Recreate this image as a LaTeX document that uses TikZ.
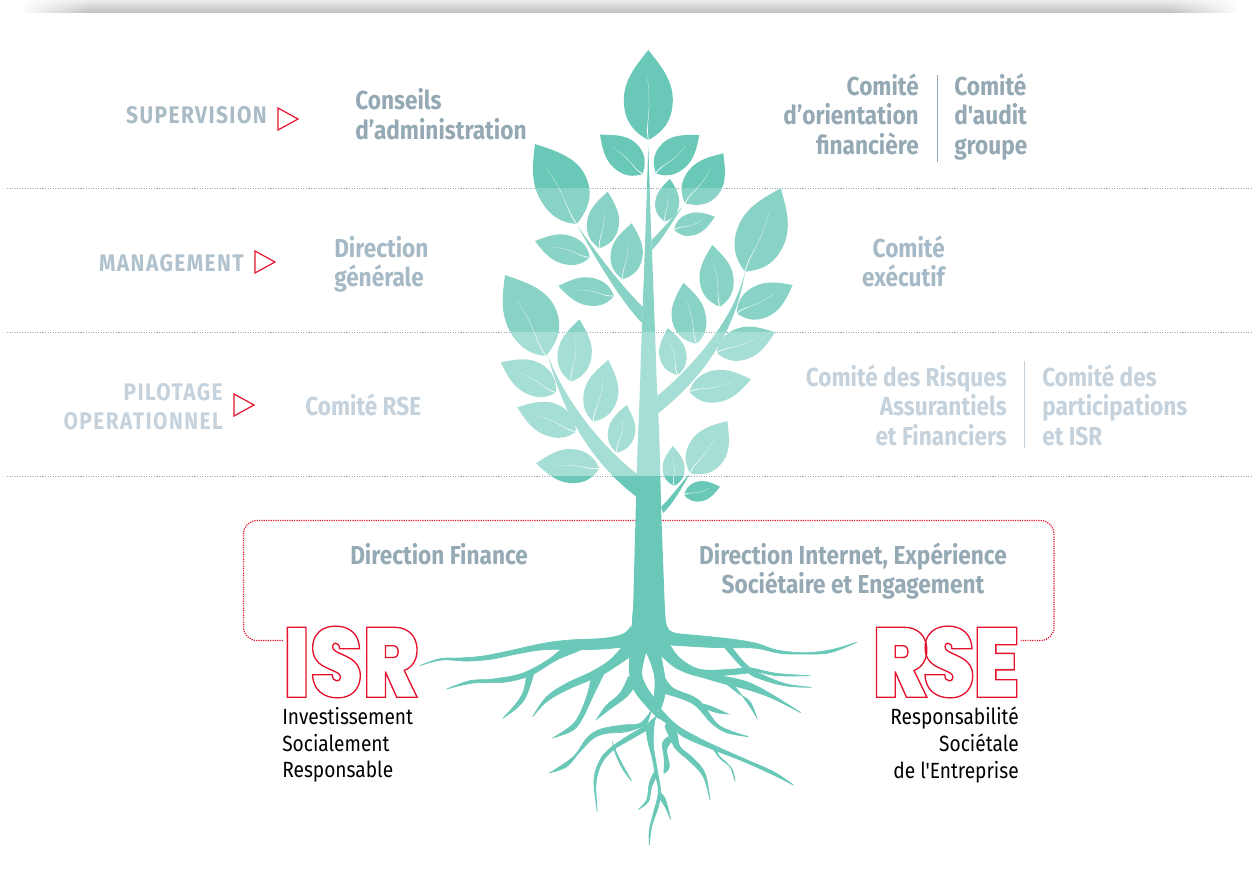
\documentclass[tikz,border=0pt]{standalone}
\usepackage{fontspec}
\usetikzlibrary{calc,fadings}
\setmainfont{Fira Sans}[FakeStretch=0.87,Ligatures=TeXOff]
\newfontfamily\heavyf{Poppins Black}[FakeStretch=0.85]
\definecolor{treeA}{HTML}{6AC8B8}
\definecolor{treeB}{HTML}{88D3C6}
\definecolor{treeC}{HTML}{A5DED4}
\definecolor{redc}{HTML}{E5132E}
\definecolor{dark}{HTML}{94A9B4}
\definecolor{head}{HTML}{A9BBC5}
\definecolor{mid}{HTML}{A6B9C6}
\definecolor{headm}{HTML}{B0C2CE}
\definecolor{light}{HTML}{C5D2DC}
\definecolor{dotc}{HTML}{96ABB6}
\tikzset{
 lab/.style={font=\bfseries\fontsize{19.5}{21.9}\selectfont,inner sep=0pt,text depth=0pt},
 headlab/.style={font=\bfseries\fontsize{18}{21.9}\selectfont\addfontfeature{LetterSpace=6},inner sep=0pt,align=right},
 blk/.style={font=\fontsize{16.5}{20}\selectfont,inner sep=0pt,text=black},
 tri/.style={draw=redc,line width=.9pt,fill=white},
 dotl/.style={draw=dotc,line width=.8pt,dash pattern=on .8pt off 1.1pt},
 bracket/.style={draw=redc,line width=.9pt,dash pattern=on .9pt off .85pt,rounded corners=10pt},
 divider/.style={draw=#1,line width=.75pt},
}
\newcommand\outl[1]{\special{pdf:code q 1 Tr 1 w 0.898 0.075 0.18 RG}#1\special{pdf:code Q}}
\newcommand\leaf[6]{%
 \pgfmathsetmacro\ldx{#3-#1}\pgfmathsetmacro\ldy{#4-#2}\pgfmathsetmacro\lL{veclen(\ldx,\ldy)}%
 \pgfmathsetmacro\nnx{\ldy/\lL}\pgfmathsetmacro\nny{-\ldx/\lL}%
 \begin{scope}[shift={(#1,#2)},x={(\ldx*.75pt,-\ldy*.75pt)},y={(\nnx*.75pt,-\nny*.75pt)}]
 \fill[treecol] (0,0) .. controls (.08,.55*#5) and (.2,#5) .. (.45,#5) .. controls (.68,#5) and (.86,.4*#5) .. (1,0)
   .. controls (.86,-.4*#6) and (.68,-#6) .. (.45,-#6) .. controls (.2,-#6) and (.08,-.55*#6) .. (0,0);
 \fill[white] (0,.4) .. controls (.2,3.3) and (.3,-3.7) .. (.7,1) .. controls (.32,-4) and (.2,2.8) .. (0,-.4);
 \end{scope}}
\newcommand\rootp[2]{\fill[treecol,draw=treecol,line width=.5pt] plot[smooth,tension=.6] coordinates {#1} -- plot[smooth,tension=.6] coordinates {#2} -- cycle;}
\newcommand\treeshapes{%
 \leaf{648.3}{140}{648.3}{50}{24.5}{24.5}
 \leaf{642.7}{174}{600}{134.7}{15}{18}
 \leaf{655.7}{173.3}{699.3}{135}{18}{15}
 \leaf{685}{203.3}{723.3}{153.3}{17}{21}
 \leaf{665}{221.7}{670}{179}{12}{12}
 \leaf{674}{230}{715}{216.7}{11}{11}
 \leaf{576.7}{224}{535}{144}{21}{30}
 \leaf{599.3}{248.3}{607.7}{191.7}{16}{16}
 \leaf{622.7}{279.3}{631.7}{223.3}{16}{16}
 \leaf{590}{257.3}{535}{241}{14}{15}
 \leaf{614}{296}{558.3}{286}{14}{14}
 \leaf{745}{271.7}{780.7}{188.3}{24}{25}
 \leaf{696.7}{344}{683.3}{282.7}{19}{15}
 \leaf{720}{306.7}{712.3}{245}{17}{17}
 \leaf{736.7}{313.3}{792.7}{285}{16}{17}
 \leaf{716.7}{352.7}{775}{332.3}{16}{16}
 \leaf{689.3}{391.7}{751}{379.3}{16}{16}
 \leaf{677.7}{375}{667.7}{328.3}{14}{13}
 \leaf{546}{356}{505}{275}{21}{30}
 \leaf{571}{381.7}{579.3}{319.3}{17}{17}
 \leaf{593.3}{421.7}{608.3}{360}{16}{18}
 \leaf{556}{392.7}{500.7}{362.3}{15}{18}
 \leaf{576}{431.7}{517.3}{407.3}{15}{18}
 \leaf{616.7}{452.7}{626.7}{405}{13}{14}
 \leaf{599.3}{468.3}{536}{463.3}{17}{17}
 \leaf{674.3}{486}{672.7}{446}{11}{11}
 \leaf{690}{473.3}{727.3}{421}{18}{20}
 \leaf{684}{495}{720}{486.7}{10}{10}
 \fill[treecol] (648.3,146) .. controls (646,220) and (643,300) .. (641,350) .. controls (640,400) and (637,450) .. (636,500) -- (633,612) -- (665,612) -- (661,507) .. controls (660,450) and (658,400) .. (657,390) .. controls (655,330) and (652,250) .. (651,230) -- cycle;
 \fill[treecol] (682.7,206.5) .. controls (670,220) and (660,232) .. (651.5,240) -- (652,250) .. controls (662,240) and (672,222) .. (682.7,206.5) -- cycle;
 \fill[treecol] (578,227) .. controls (595,250) and (620,285) .. (643,307) -- (642,323) .. controls (620,300) and (598,262) .. (578,227) -- cycle;
 \fill[treecol] (745,272) .. controls (735,315) and (700,360) .. (657.3,396) -- (658.3,413.3) .. controls (700,380) and (735,335) .. (745,272) -- cycle;
 \fill[treecol] (548,356) .. controls (565,400) and (600,445) .. (637,474) -- (636.7,497) .. controls (595,465) and (565,420) .. (548,356) -- cycle;
 \fill[treecol] (690,473) .. controls (680,485) and (670,498) .. (661,507) -- (663,513) .. controls (672,505) and (682,488) .. (690,473) -- cycle;
 \begin{scope}[shift={(410,610)},x=.25pt,y=-.25pt]
 \fill[treecol] (668,0) -- (665,50) .. controls (660,65) and (645,72) .. (640,75) -- (632,112) -- (658,142) -- (695,128) -- (752,135) -- (782,105) -- (790,68) .. controls (772,60) and (767,50) .. (765,0) -- cycle;
 \rootp{(662,50)(640,72)(580,85)(480,90)(400,100)(300,122)(220,138)(150,144)(90,146)(30,167)}{(30,167)(95,150)(170,153)(240,148)(320,132)(390,120)(450,118)(560,118)(650,110)}
 \rootp{(460,112)(420,145)(370,175)(320,195)(240,208)(180,212)(110,237)}{(110,237)(190,219)(280,217)(345,203)(375,190)(440,150)(500,125)(530,110)}
 \rootp{(350,195)(340,245)(315,285)(278,325)}{(278,325)(325,290)(350,255)(372,190)}
 \rootp{(635,112)(600,150)(545,185)(470,220)(410,260)(368,320)}{(368,320)(410,275)(470,240)(545,208)(585,190)(660,140)}
 \rootp{(545,200)(530,260)(505,320)(480,350)(430,383)}{(430,383)(490,360)(520,320)(548,260)(585,185)}
 \rootp{(655,200)(630,250)(590,285)(560,328)}{(560,328)(600,297)(650,260)(680,220)}
 \rootp{(660,130)(658,185)(672,240)(715,295)(745,325)}{(745,325)(735,270)(712,235)(695,190)(708,125)}
 \rootp{(708,125)(725,165)(735,210)(733,265)(735,300)}{(735,300)(752,295)(765,250)(765,205)(750,125)}
 \rootp{(765,45)(790,68)(880,78)(970,88)(1040,100)(1100,120)(1180,128)(1260,120)(1340,97)}{(1340,97)(1260,128)(1180,132)(1110,130)(1040,115)(960,113)(900,112)(780,105)}
 \rootp{(780,105)(810,145)(870,178)(960,178)(1010,172)}{(1010,190)(930,197)(870,200)(800,175)(752,135)}
 \rootp{(960,105)(1010,165)(1060,195)(1130,222)(1205,232)}{(1205,232)(1130,228)(1060,210)(1010,185)(940,108)}
 \rootp{(1005,172)(1030,175)(1100,190)(1200,197)}{(1200,197)(1100,197)(1040,185)(1005,190)}
 \rootp{(930,197)(1010,215)(1080,250)(1172,308)}{(1172,308)(1080,262)(1000,235)(945,222)(870,200)}
 \rootp{(950,222)(985,250)(1020,275)(1040,322)}{(1040,322)(1020,290)(1000,262)(975,230)}
 \rootp{(765,205)(790,235)(850,260)(880,285)(920,340)(960,362)(1015,380)}{(1015,380)(950,368)(905,340)(860,290)(820,268)(762,250)}
 \rootp{(880,282)(905,290)(955,312)}{(955,312)(920,308)(885,295)}
 \rootp{(750,295)(800,345)(850,375)(910,405)(1000,445)(1090,485)(1150,525)}{(1150,525)(1080,490)(990,450)(900,415)(820,380)(770,340)(740,320)}
 \rootp{(905,410)(930,445)(965,475)(975,515)}{(975,515)(960,470)(925,435)(925,415)}
 \rootp{(770,340)(800,370)(810,410)(850,445)(885,490)(900,570)}{(900,570)(880,500)(840,455)(800,420)(785,395)(765,350)}
 \rootp{(775,380)(757,400)(762,440)(762,490)}{(762,490)(778,470)(770,420)(785,395)}
 \rootp{(738,320)(712,345)(712,385)(728,450)(735,490)(745,545)(730,610)(718,660)(718,705)}{(718,705)(725,650)(745,590)(752,545)(740,470)(730,400)(735,330)(755,300)}
 \rootp{(733,485)(718,520)(710,570)(685,598)}{(685,598)(715,575)(725,530)(742,495)}
 \rootp{(745,545)(765,565)(782,628)}{(782,628)(765,590)(748,565)}
 \rootp{(725,300)(690,340)(640,345)(570,358)(530,385)(490,440)(420,488)}{(420,488)(470,470)(510,425)(550,385)(590,370)(650,365)(710,345)}
 \rootp{(710,345)(650,380)(600,415)(570,450)(552,510)(562,605)}{(562,605)(558,520)(575,460)(610,420)(650,395)(712,360)}
 \rootp{(608,400)(630,450)(665,513)}{(665,513)(640,480)(620,440)(610,412)}
 \end{scope}}
\begin{document}
\begin{tikzpicture}[x=.75pt,y=-.75pt]
\useasboundingbox (0,0) rectangle (1253,871);
\fill[white] (0,0) rectangle (1253,871);
% top shadow
\shade[top color=black!7,bottom color=black!24] (22,0) rectangle (1238,12);
\fill[white,path fading=east] (20,-1) rectangle (90,12.5);
\fill[white,path fading=west] (1170,-1) rectangle (1240,12.5);
% separators
\coordinate (la) at (7,188.5); \coordinate (ra) at (1251,188.5);
\coordinate (lb) at (7,332.5); \coordinate (rb) at (1251,332.5);
\coordinate (lc) at (7,476.5); \coordinate (rc) at (1251,476.5);
\draw[dotl] (la) -- (ra); \draw[dotl] (lb) -- (rb); \draw[dotl] (lc) -- (rc);
% ISR / RSE
\node[inner sep=0pt,anchor=center] (isr) at (351,662) {\heavyf\fontsize{74}{74}\selectfont\outl{ISR}};
\node[inner sep=0pt,anchor=center] (rse) at (946,662) {\heavyf\fontsize{74}{74}\selectfont\outl{R\kern-4.5pt S\kern-1.5pt E}};
\coordinate (bry) at (0,640.5);
\draw[bracket] (isr.west|-bry) -- (243.5,640.5) -- (243.5,520.5) -- (1054,520.5) -- (1054,640.5) -- (rse.east|-bry);
% tree
\begin{scope}\clip (0,0) rectangle (1253,188.5); \colorlet{treecol}{treeA}\treeshapes\end{scope}
\begin{scope}\clip (0,188.5) rectangle (1253,332.5); \colorlet{treecol}{treeB}\treeshapes\end{scope}
\begin{scope}\clip (0,332.5) rectangle (1253,476.5); \colorlet{treecol}{treeC}\treeshapes\end{scope}
\begin{scope}\clip (0,476.5) rectangle (1253,871); \colorlet{treecol}{treeA}\treeshapes\end{scope}
% row 1
\node[headlab,text=head,anchor=east] (sup) at (267,115) {SUPERVISION};
\draw[tri] (278,108) -- (298,119) -- (278,130) -- cycle;
\node[lab,text=dark,align=left,anchor=west] (ca) at (355,114) {Conseils\\d’administration};
\node[lab,text=dark,align=right,anchor=east] (co) at (919,114) {Comité\\d’orientation\\financière};
\node[lab,text=dark,align=left,anchor=west] (cg) at (954,114) {Comité\\d'audit\\groupe};
\draw[divider=dark] (937,75) -- (937,162);
% row 2
\node[headlab,text=headm,anchor=east] (man) at (244,263) {MANAGEMENT};
\draw[tri] (255,251) -- (275,262) -- (255,273) -- cycle;
\node[lab,text=mid,align=left,anchor=west] (dg) at (334,261.5) {Direction\\générale};
\node[lab,text=mid,align=right,anchor=east] (ce) at (945,261.5) {Comité\\exécutif};
% row 3
\node[headlab,text=light,anchor=east] (pil) at (223,407) {PILOTAGE\\OPERATIONNEL};
\draw[tri] (234,394) -- (254,405) -- (234,416) -- cycle;
\node[lab,text=light,anchor=west] (crse) at (305,405) {Comité RSE};
\node[lab,text=light,align=right,anchor=east] (cr) at (1007,405) {Comité des Risques\\Assurantiels\\et Financiers};
\node[lab,text=light,align=left,anchor=west] (cp) at (1042,405) {Comité des\\participations\\et ISR};
\draw[divider=light] (1024,361) -- (1024,448);
% row 4
\node[lab,text=dark,anchor=west] (df) at (350,554) {Direction Finance};
\node[lab,text=dark,align=center] (di) at (853,568.5) {Direction Internet, Expérience\\Sociétaire et Engagement};
% captions
\node[blk,align=left,anchor=west] (ti) at (282,745) {Investissement\\Socialement\\Responsable};
\node[blk,align=right,anchor=east] (tr) at (1019,745) {Responsabilité\\Sociétale\\de l'Entreprise};
\end{tikzpicture}
\end{document}
